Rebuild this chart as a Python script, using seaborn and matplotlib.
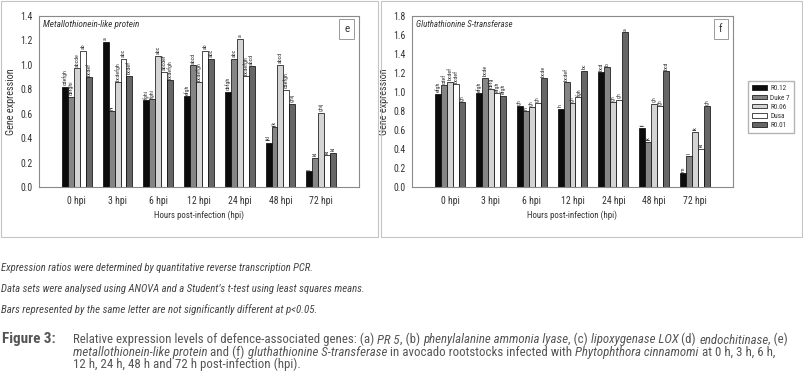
import numpy as np
import pandas as pd
import matplotlib
matplotlib.use("Agg")
import matplotlib.pyplot as plt
import seaborn as sns
from matplotlib import font_manager as fm
from matplotlib.patches import Rectangle, Patch

# ---------------- data ----------------
times = ["0 hpi", "3 hpi", "6 hpi", "12 hpi", "24 hpi", "48 hpi", "72 hpi"]
rootstocks = ["R0.12", "Duke 7", "R0.06", "Dusa", "R0.01"]

# (e) Metallothionein-like protein
mt_r012 = [0.82, 1.19, 0.71, 0.745, 0.78, 0.363, 0.128]
mt_duke7 = [0.74, 0.62, 0.72, 0.996, 1.05, 0.489, 0.24]
mt_r006 = [0.975, 0.857, 1.075, 0.86, 1.215, 1.00, 0.608]
mt_dusa = [1.116, 1.05, 0.945, 1.115, 0.905, 0.797, 0.26]
mt_r001 = [0.90, 0.91, 0.873, 1.05, 0.99, 0.682, 0.28]

mt_lab_r012 = ["cdefgh", "a", "fghi", "efgh", "defgh", "jkl", "l"]
mt_lab_duke7 = ["defghi", "hi", "fghi", "abcd", "abc", "ijk", "kl"]
mt_lab_r006 = ["abcde", "bcdefgh", "abc", "bcdefgh", "a", "abcd", "ghij"]
mt_lab_dusa = ["ab", "abc", "abcdef", "ab", "bcdefgh", "cdefgh", "kl"]
mt_lab_r001 = ["bcdef", "bcdef", "bcdefgh", "abc", "abcd", "ghij", "kl"]

# (f) Gluthathionine S-transferase
gst_r012 = [0.982, 0.99, 0.853, 0.825, 1.21, 0.625, 0.144]
gst_duke7 = [1.07, 1.15, 0.80, 1.10, 1.26, 0.474, 0.33]
gst_r006 = [1.11, 1.03, 0.84, 0.885, 0.895, 0.877, 0.583]
gst_dusa = [1.085, 0.99, 0.885, 0.944, 0.92, 0.85, 0.404]
gst_r001 = [0.89, 0.96, 1.144, 1.225, 1.63, 1.22, 0.85]

gst_lab_r012 = ["efgh", "efgh", "gh", "h", "bcd", "ij", "m"]
gst_lab_duke7 = ["cdef", "bcde", "h", "bcdef", "b", "jk", "l"]
gst_lab_r006 = ["bcdef", "defg", "gh", "gh", "gh", "gh", "ik"]
gst_lab_dusa = ["bcdef", "efgh", "gh", "fgh", "gh", "gh", "kl"]
gst_lab_r001 = ["gh", "efgh", "bcde", "bc", "a", "bcd", "gh"]

colors = ["#0c0c0c", "#858585", "#d4d4d4", "#ffffff", "#666666"]

# ---------------- fonts ----------------
ttf = fm.fontManager.ttflist
names = {f.name for f in ttf}
STRETCH = "normal"
FONT = None
for cand in ["Liberation Sans Narrow", "Roboto Condensed", "Open Sans Condensed",
             "Noto Sans Condensed", "DejaVu Sans Condensed"]:
    if cand in names:
        FONT = cand
        break
if FONT is None:
    for cand in ["Roboto", "Noto Sans", "Open Sans", "DejaVu Sans"]:
        if any(f.name == cand and str(f.stretch) in ("condensed", "semi-condensed", "75", "87.5")
               for f in ttf):
            FONT = cand
            STRETCH = "condensed"
            break
if FONT is None:
    FONT = "Liberation Sans"

sns.set_theme(style="white")
plt.rcParams["font.family"] = [FONT, "Liberation Sans", "DejaVu Sans"]
plt.rcParams["font.stretch"] = STRETCH
plt.rcParams["axes.edgecolor"] = "#8a8a8a"
plt.rcParams["text.color"] = "#333333"
plt.rcParams["axes.labelcolor"] = "#333333"
plt.rcParams["xtick.color"] = "#8a8a8a"
plt.rcParams["ytick.color"] = "#8a8a8a"
plt.rcParams["xtick.labelcolor"] = "#333333"
plt.rcParams["ytick.labelcolor"] = "#333333"

def make_df(series):
    rows = []
    for rs, vals in zip(rootstocks, series):
        for t, v in zip(times, vals):
            rows.append({"time": t, "rootstock": rs, "value": v})
    return pd.DataFrame(rows)

df_mt = make_df([mt_r012, mt_duke7, mt_r006, mt_dusa, mt_r001])
df_gst = make_df([gst_r012, gst_duke7, gst_r006, gst_dusa, gst_r001])
labs_mt = [mt_lab_r012, mt_lab_duke7, mt_lab_r006, mt_lab_dusa, mt_lab_r001]
labs_gst = [gst_lab_r012, gst_lab_duke7, gst_lab_r006, gst_lab_dusa, gst_lab_r001]

W, H = 804, 381
fig = plt.figure(figsize=(W / 100, H / 100), dpi=100)
fig.patch.set_facecolor("white")
renderer = fig.canvas.get_renderer()

def fit(t, target_w, horizontal=True, lo=0.0):
    bb = t.get_window_extent(renderer=renderer)
    w = bb.width if horizontal else bb.height
    if w > 0:
        t.set_fontsize(max(lo, t.get_fontsize() * target_w / w))

def px_rect(x0, y0, x1, y1):
    return [x0 / W, 1 - y1 / H, (x1 - x0) / W, (y1 - y0) / H]

ax1 = fig.add_axes(px_rect(39, 16, 359, 187))
ax2 = fig.add_axes(px_rect(412, 16, 733, 187))

def draw(ax, df, labs, ymax, title, letter):
    sns.barplot(data=df, x="time", y="value", hue="rootstock", hue_order=rootstocks,
                order=times, palette=colors, saturation=1, width=0.73, gap=0,
                edgecolor="black", linewidth=0.5, errorbar=None, legend=False, ax=ax)
    for cont, lab in zip(ax.containers, labs):
        ax.bar_label(cont, labels=lab, rotation=90, fontsize=4.2, padding=1,
                     color="#333333")
    ax.set_ylim(0, ymax)
    ax.set_xlim(-0.93, 6.93)
    ticks = np.arange(0, ymax + 0.001, 0.2)
    ax.set_yticks(ticks)
    ax.set_yticklabels([f"{v:.1f}" for v in ticks])
    ax.tick_params(axis="both", which="both", length=2.5, width=0.6,
                   labelsize=7.0, pad=2)
    ax.tick_params(axis="x", pad=4)
    for sp in ax.spines.values():
        sp.set_linewidth(0.8)
        sp.set_color("#8a8a8a")
    ax.set_xlabel("Hours post-infection (hpi)", fontsize=7.0, labelpad=3)
    ax.set_ylabel("Gene expression", fontsize=7.0, labelpad=3)
    fit(ax.xaxis.label, 90, lo=6.4)
    fit(ax.yaxis.label, 68, horizontal=False, lo=6.4)
    tt = ax.text(0.012, 0.975, title, transform=ax.transAxes, ha="left", va="top",
                 fontsize=6.0, style="italic", color="#333333")
    fit(tt, 97)
    ax.text(0.962, 0.925, letter, transform=ax.transAxes, ha="center", va="center",
            fontsize=8, color="#333333",
            bbox=dict(boxstyle="square,pad=0.45", fc="white", ec="#9a9a9a", lw=0.7))

draw(ax1, df_mt, labs_mt, 1.4, "Metallothionein-like protein", "e")
draw(ax2, df_gst, labs_gst, 1.8, "Gluthathionine S-transferase", "f")

handles = [Patch(facecolor=c, edgecolor="black", linewidth=0.5) for c in colors]
fig.legend(handles, rootstocks, loc="upper left", bbox_to_anchor=(748 / W, 1 - 81 / H),
           fontsize=5.2, frameon=True, fancybox=False,
           edgecolor="#a0a0a0", handlelength=2.0, handleheight=0.6,
           labelspacing=0.3, borderpad=0.6, handletextpad=0.5,
           borderaxespad=0)

# panel frames
for (x0, x1) in [(0.5, 378), (381, 802.5)]:
    fig.add_artist(Rectangle((x0 / W, 1 - 237 / H), (x1 - x0) / W, (237 - 0.5) / H,
                             transform=fig.transFigure, fill=False,
                             ec="#c4c4c4", lw=0.8))

# ---------------- captions ----------------
notes = ["Expression ratios were determined by quantitative reverse transcription PCR.",
         "Data sets were analysed using ANOVA and a Student\u2019s t-test using least squares means.",
         "Bars represented by the same letter are not significantly different at p<0.05."]
note_ends = [315, 364, 316]
for i, (t, xe) in enumerate(zip(notes, note_ends)):
    tx = fig.text(1 / W, 1 - (271 + 21 * i) / H, t, fontsize=6.0, style="italic",
                  color="#444444", va="baseline", ha="left")
    fit(tx, xe - 1)

fig_lbl = fig.text(2 / W, 1 - 343.5 / H, "Figure 3:", fontsize=7.5, weight="bold",
                   color="#555555", va="baseline", ha="left")
fit(fig_lbl, 53)

caption_lines = [
    [("Relative expression levels of defence-associated genes: (a) ", "normal"),
     ("PR 5", "italic"), (", (b) ", "normal"), ("phenylalanine ammonia lyase", "italic"),
     (", (c) ", "normal"), ("lipoxygenase LOX", "italic"), (" (d) ", "normal"),
     ("endochitinase", "italic"), (", (e)", "normal")],
    [("metallothionein-like protein", "italic"), (" and (f) ", "normal"),
     ("gluthathionine S-transferase", "italic"),
     (" in avocado rootstocks infected with ", "normal"),
     ("Phytophthora cinnamomi", "italic"), (" at 0 h, 3 h, 6 h,", "normal")],
    [("12 h, 24 h, 48 h and 72 h post-infection (hpi).", "normal")],
]

def seg_width(segs, fs):
    total = 0
    for txt, st in segs:
        t = fig.text(0, 0, txt, fontsize=fs, style=st)
        total += t.get_window_extent(renderer=renderer).width
        t.remove()
    return total

base = 7.5
cap_fs = base * (790 - 73) / seg_width(caption_lines[0], base)

for li, segs in enumerate(caption_lines):
    x = 73
    y = 343.5 + 12.3 * li
    for txt, st in segs:
        t = fig.text(x / W, 1 - y / H, txt, fontsize=cap_fs, style=st,
                     color="#555555", va="baseline", ha="left")
        x += t.get_window_extent(renderer=renderer).width

fig.savefig("out.png", dpi=100, facecolor="white")
